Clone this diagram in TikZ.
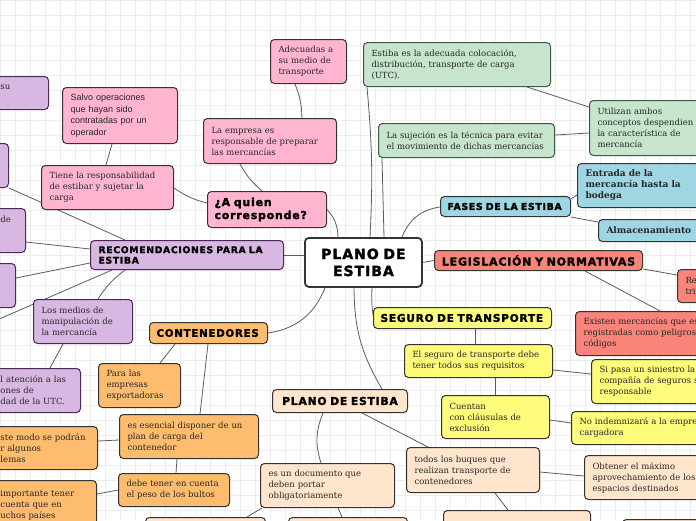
\documentclass[tikz,border=0pt]{standalone}
\usepackage{fontspec}
\setmainfont{DejaVu Serif}
\setsansfont{Liberation Sans}
\newfontfamily\headfont[LetterSpace=7,FakeBold=2]{DejaVuSans-Bold.ttf}
\usepackage{xcolor}
\usepackage{tikz}
\usetikzlibrary{backgrounds}
\definecolor{INK}{HTML}{333333}
\definecolor{WIRE}{HTML}{5C5C5C}
\definecolor{GRID}{HTML}{EDEDED}
\definecolor{PINK}{HTML}{FFB5CF}
\definecolor{LILAC}{HTML}{D8B8E2}
\definecolor{PLUM}{HTML}{4A2A55}
\definecolor{MINT}{HTML}{C7E5CC}
\definecolor{FERN}{HTML}{3E5944}
\definecolor{SKY}{HTML}{9FD6E4}
\definecolor{CORAL}{HTML}{F8847A}
\definecolor{AMBER}{HTML}{FDBC6E}
\definecolor{LEMON}{HTML}{FCFC7A}
\definecolor{PEACH}{HTML}{FFE5CC}
\pgfdeclarelayer{paper}
\pgfsetlayers{paper,background,main}

\begin{document}
\begin{tikzpicture}[
    x=1pt, y=-1pt,
    box/.style={draw=INK, line width=1pt, rounded corners=4pt, anchor=north west, align=left,
      inner xsep=8pt, inner ysep=3pt, font=\fontsize{8.5}{11}\selectfont, text=black!85},
    head/.style={box, inner xsep=7pt, text=black, font=\headfont\fontsize{10.3}{12}\selectfont},
    hub/.style={box, fill=white, line width=1.8pt, align=center, text=black,
      font=\headfont\fontsize{14}{17}\selectfont},
    lilac/.style={box, fill=LILAC, draw=PLUM},
    mint/.style={box, fill=MINT, draw=FERN},
    wire/.style={draw=WIRE, line width=0.8pt},
  ]
  \useasboundingbox (0,0) rectangle (696,520);
  \clip (0,0) rectangle (696,520);

  % paper grid
  \begin{pgfonlayer}{paper}
    \fill[white] (0,0) rectangle (696,520);
    \draw[GRID, line width=0.5pt, step=15pt] (0,0) grid (696,520);
  \end{pgfonlayer}

  % centre
  \node[hub, text width=101pt, minimum height=49pt] (plan) at (304,237) {PLANO DE\\ESTIBA};

  % a quien corresponde
  \node[head, fill=PINK, text width=105pt, minimum height=36pt,
    font=\headfont\fontsize{11}{13}\selectfont] (quien) at (207,191) {¿A quien\\corresponde?};
  \node[box, fill=PINK, text width=117pt, minimum height=45pt] (empresa) at (203,118) {La empresa es\\responsable de preparar\\las mercancías};
  \node[box, fill=PINK, text width=60pt, minimum height=44pt] (adecuadas) at (270,39) {Adecuadas a\\su medio de\\transporte};
  \node[box, fill=PINK, text width=116pt, minimum height=44pt] (tiene) at (41,165) {Tiene la responsabilidad\\de estibar y sujetar la\\carga};
  \node[box, fill=PINK, text width=99pt, minimum height=56pt,
    font=\sffamily\fontsize{9}{11.5}\selectfont] (salvo) at (62,87) {Salvo operaciones\\que hayan sido\\contratadas por un\\operador};

  % recomendaciones
  \node[head, lilac, text=black, text width=177pt, minimum height=29pt,
    font=\headfont\fontsize{9.3}{10.5}\selectfont] (recom) at (90,240) {RECOMENDACIONES PARA LA\\ESTIBA};
  \node[lilac, text width=40pt, minimum height=33pt] (recsu) at (-8,76) {su\\\mbox{}};
  \node[lilac, text width=52pt, minimum height=44pt] (reca) at (-60,143) {};
  \node[lilac, text width=17pt, minimum height=44pt] (recde) at (-8,208) {de\\\mbox{}\\\mbox{}};
  \node[lilac, text width=59pt, minimum height=44pt] (recc) at (-60,263) {};
  \node[lilac, text width=83pt, minimum height=44pt] (medios) at (33,299) {Los medios de\\manipulación de\\la mercancía};
  \node[lilac, text width=72pt, minimum height=44pt] (atencion) at (-8,368) {l atención a las\\ones de\\dad de la UTC.};
  \coordinate (recoff) at (-10,323);

  % contenedores
  \node[head, fill=AMBER, text width=104pt, minimum height=21pt] (conten) at (149,322) {CONTENEDORES};
  \node[box, fill=AMBER, text width=66pt, minimum height=44pt] (para) at (98,363) {Para las\\empresas\\exportadoras};
  \node[box, fill=AMBER, text width=123pt, minimum height=44pt] (esencial) at (119,414) {es esencial disponer de un\\plan de carga del\\contenedor};
  \node[box, fill=AMBER, text width=89pt, minimum height=43pt] (modo) at (-8,426) {ste modo se podrán\\r algunos\\lemas};
  \node[box, fill=AMBER, text width=95pt, minimum height=33pt] (peso) at (118,473) {debe tener en cuenta\\el peso de los bultos};
  \node[box, fill=AMBER, text width=88pt, minimum height=50pt] (paises) at (-8,480) {importante tener\\cuenta que en\\uchos países};

  % plano de estiba
  \node[head, fill=PEACH, text width=121pt, minimum height=23pt, align=center,
    font=\headfont\fontsize{10.8}{12}\selectfont] (plano) at (272,389) {PLANO DE ESTIBA};
  \node[box, fill=PEACH, text width=118pt, minimum height=44pt] (documento) at (260,463) {es un documento que\\deben portar\\obligatoriamente};
  \node[box, fill=PEACH, text width=117pt, minimum height=45pt] (buques) at (406,447) {todos los buques que\\realizan transporte de\\contenedores};
  \node[box, fill=PEACH, text width=104pt, minimum height=44pt] (obtener) at (584,455) {Obtener el máximo\\aprovechamiento de los\\espacios destinados};
  \node[box, fill=PEACH, text width=104pt, minimum height=30pt] (doca) at (145,517) {};
  \node[box, fill=PEACH, text width=103pt, minimum height=30pt] (docb) at (288,517) {};
  \node[box, fill=PEACH, text width=131pt, minimum height=30pt] (buqa) at (443,510) {};
  \node[box, fill=PEACH, text width=64pt, minimum height=30pt] (obta) at (622,519) {};

  % seguro de transporte
  \node[head, fill=LEMON, text width=164pt, minimum height=21pt,
    font=\headfont\fontsize{10.6}{12}\selectfont] (seguro) at (373,307) {SEGURO DE TRANSPORTE};
  \node[box, fill=LEMON, text width=132pt, minimum height=33pt] (requisitos) at (404,344) {El seguro de transporte debe\\tener todos sus requisitos};
  \node[box, fill=LEMON, text width=92pt, minimum height=43pt] (clausulas) at (441,395) {Cuentan\\con cláusulas de\\exclusión};
  \node[box, fill=LEMON, text width=100pt, minimum height=44pt] (siniestro) at (591,359) {Si pasa un siniestro la\\compañía de seguros s\\responsable};
  \node[box, fill=LEMON, text width=120pt, minimum height=33pt] (indemniza) at (571,411) {No indemnizará a la empre\\cargadora};

  % legislacion
  \node[head, fill=CORAL, text width=194pt, minimum height=20pt, align=center,
    font=\headfont\fontsize{11}{12}\selectfont] (legis) at (434,250) {LEGISLACIÓN Y NORMATIVAS};
  \node[box, fill=CORAL, text width=20pt, minimum height=33pt] (legre) at (677,269) {Re\\tri};
  \node[box, fill=CORAL, text width=120pt, minimum height=44pt] (peligro) at (575,311) {Existen mercancías que es\\registradas como peligros\\códigos};

  % fases
  \node[head, fill=SKY, text width=116pt, minimum height=20pt,
    font=\headfont\fontsize{9.4}{10}\selectfont] (fases) at (440,196) {FASES DE LA ESTIBA};
  \node[box, fill=SKY, text width=112pt, minimum height=44pt,
    font=\bfseries\fontsize{9}{11}\selectfont] (entrada) at (577,163) {Entrada de la\\mercancía hasta la\\bodega};
  \node[box, fill=SKY, text width=90pt, minimum height=22pt,
    font=\bfseries\fontsize{9}{11}\selectfont] (almacen) at (598,219) {Almacenamiento};

  % definiciones
  \node[mint, text width=171pt, minimum height=44pt] (estiba) at (363,42) {Estiba es la adecuada colocación,\\distribución, transporte de carga\\(UTC).};
  \node[mint, text width=160pt, minimum height=34pt] (sujecion) at (378,123) {La sujeción es la técnica para evitar\\el movimiento de dichas mercancías};
  \node[mint, text width=104pt, minimum height=55pt] (utilizan) at (589,100) {Utilizan ambos\\conceptos despendien\\la característica de\\mercancía};

  % connectors
  \begin{scope}[on background layer]
    \draw[wire] (recom.east) -- (plan.west |- recom.east);
    \draw[wire] (quien.east) to[bend left=20] ([xshift=34pt]plan.north west);
    \draw[wire] ([xshift=25pt]adecuadas.south west) to[bend left=10] ([xshift=99pt]empresa.north west);
    \draw[wire] ([xshift=37pt]empresa.south west) to[bend right=10] ([xshift=55pt]quien.north west);
    \draw[wire] ([xshift=50pt]salvo.south west) -- ([xshift=65pt]tiene.north west);
    \draw[wire] ([yshift=-23pt]tiene.north east) to[bend right=10] ([yshift=-12pt]quien.north west);
    \draw[wire] (reca.south east) -- ([xshift=35pt]recom.north west);
    \draw[wire] ([yshift=11pt]recde.south east) -- ([yshift=6pt]recom.west);
    \draw[wire] ([yshift=-15pt]recc.north east) -- ([yshift=-8pt]recom.west);
    \draw[wire] (recoff) -- ([xshift=22pt]recom.south west);
    \draw[wire] ([xshift=35pt]recom.south west) to[bend right=10] ([xshift=65pt]medios.north west);
    \draw[wire] ([xshift=30pt]medios.south west) -- ([xshift=58pt]atencion.north west);
    \draw[wire] ([xshift=21pt]plan.south west) to[bend left=30] (conten.east);
    \draw[wire] ([xshift=26pt]conten.south west) -- ([xshift=62pt]para.north west);
    \draw[wire] ([xshift=59pt]conten.south west) -- ([xshift=81pt]esencial.north west);
    \draw[wire] ([yshift=-26pt]esencial.north west) -- ([yshift=-15pt]modo.north east);
    \draw[wire] ([xshift=58pt]esencial.south west) -- ([xshift=58pt]peso.north west);
    \draw[wire] ([yshift=-17pt]peso.north west) -- ([yshift=-14pt]paises.north east);
    \draw[wire] ([xshift=66pt]plan.north west) to[bend right=4] ([xshift=4pt]estiba.south west);
    \draw[wire] ([xshift=80pt]plan.north west) -- ([xshift=4pt]sujecion.south west);
    \draw[wire] ([xshift=164pt]estiba.south west) -- ([yshift=-7pt]utilizan.north west);
    \draw[wire] ([yshift=-12pt]sujecion.north east) -- ([yshift=-33pt]utilizan.north west);
    \draw[wire] ([xshift=98pt]plan.north west) to[bend left=30] ([yshift=-11pt]fases.north west);
    \draw[wire] ([yshift=-3pt]fases.north east) -- ([yshift=-32pt]entrada.north west);
    \draw[wire] (fases.south east) -- ([yshift=-3pt]almacen.north west);
    \draw[wire] (plan.east) -- (legis.west);
    \draw[wire] ([yshift=-19pt]legis.north east) -- ([yshift=-6pt]legre.north west);
    \draw[wire] ([xshift=151pt]legis.south west) -- ([xshift=85pt]peligro.north west);
    \draw[wire] ([xshift=68pt]plan.south west) to[bend right=5] ([yshift=-8pt]seguro.north west);
    \draw[wire] ([xshift=102pt]seguro.south west) -- ([xshift=71pt]requisitos.north west);
    \draw[wire] ([xshift=91pt]requisitos.south west) -- ([xshift=54pt]clausulas.north west);
    \draw[wire] ([yshift=-26pt]requisitos.north east) -- ([yshift=-15pt]siniestro.north west);
    \draw[wire] ([yshift=-25pt]clausulas.north east) -- ([yshift=-12pt]indemniza.north west);
    \draw[wire] ([xshift=50pt]plan.south west) to[bend right=15] ([xshift=110pt]plano.north west);
    \draw[wire] ([xshift=51pt]plano.south west) to[bend right=20] ([xshift=61pt]documento.north west);
    \draw[wire] ([xshift=90pt]plano.south west) -- ([xshift=22pt]buques.north west);
    \draw[wire] ([yshift=-25pt]buques.north east) -- ([yshift=-21pt]obtener.north west);
    \draw[wire] ([xshift=89pt]buques.south west) -- ([xshift=65pt]buqa.north west);
    \draw[wire] ([xshift=2pt]documento.south west) -- ([xshift=102pt]doca.north west);
    \draw[wire] ([xshift=78pt]documento.south west) -- ([xshift=54pt]docb.north west);
  \end{scope}

\end{tikzpicture}
\end{document}
